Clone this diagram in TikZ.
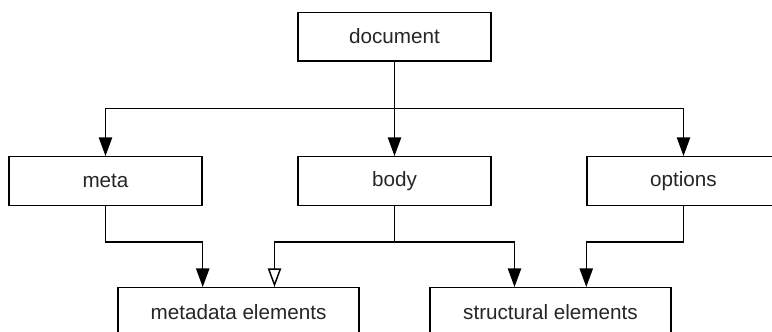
\documentclass[tikz,border=0pt]{standalone}
\usepackage{fontspec}
\setmainfont{Liberation Sans}
\usetikzlibrary{positioning,calc,arrows.meta,shadows}
\tikzset{box/.style={draw,line width=1.1pt,fill=white,minimum width=144.75pt,minimum height=36.4pt,inner sep=0pt,
  font=\fontsize{15.5}{18}\selectfont,text=black!85,
  drop shadow={shadow xshift=0.8pt,shadow yshift=-0.8pt,fill=black!45,opacity=0.7}}}
\tikzset{widebox/.style={box,minimum width=180.75pt}}
\tikzset{arr/.style={line width=1.1pt,-{Triangle[length=14pt,width=10pt]}}}
\tikzset{openarr/.style={line width=1.1pt,-{Triangle[open,length=14pt,width=10pt]}}}

\begin{document}
\begin{tikzpicture}[x=0.75pt,y=-0.75pt]
	\useasboundingbox (0,0) rectangle (772,332);
	\node[box] (doc) at (394.5,36.5) {document};
	\node[box] (meta) at (105.5,181) {meta};
	\node[box] (body) at (394.5,181) {body};
	\node[box] (options) at (683.5,181) {options};
	\node[widebox] (metael) at (238.5,312) {metadata elements};
	\node[widebox] (structel) at (550.5,312) {structural elements};

	% document -> meta, body, options
	\draw[line width=1.1pt] (doc.south) -- ++(0,47) coordinate (j1);
	\draw[arr] (j1) -| (meta.north);
	\draw[arr] (j1) -- (body.north);
	\draw[arr] (j1) -| (options.north);

	% second level
	\draw[arr] (meta.south) -- ++(0,36) -| (metael.north -| meta.east);
	\draw[line width=1.1pt] (body.south) -- ++(0,36) coordinate (j2);
	\draw[openarr] (j2) -| ($(metael.north)+(36,0)$);
	\draw[arr] (j2) -| ($(structel.north)+(-36,0)$);
	\draw[arr] (options.south) -- ++(0,36) -| (structel.north -| options.west);
\end{tikzpicture}
\end{document}
